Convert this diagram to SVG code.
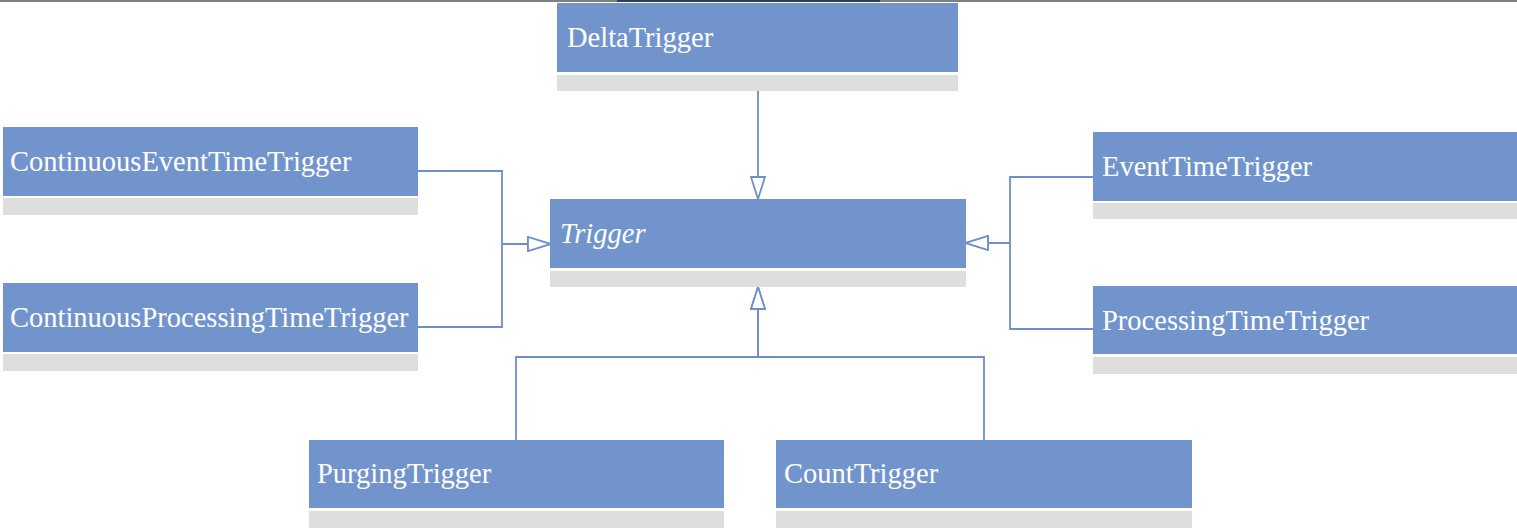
<svg xmlns="http://www.w3.org/2000/svg" width="1517" height="530" viewBox="0 0 1517 530">
  <style>
    .hdr { fill: #7294cd; }
    .body { fill: #dedede; }
    .lbl { font-family: "Liberation Serif", "Times New Roman", serif; font-size: 28.5px; fill: #ffffff; }
    .it { font-style: italic; }
    .conn { fill: none; stroke: #6f8fcb; stroke-width: 1.8; }
  </style>
  <defs>
    <marker id="gen" viewBox="0 0 24 16" refX="23" refY="8" markerWidth="24" markerHeight="16" markerUnits="userSpaceOnUse" orient="auto">
      <path d="M1,1 L23,8 L1,15 Z" fill="#ffffff" stroke="#6f8fcb" stroke-width="1.8"/>
    </marker>
  </defs>
  <rect width="1517" height="530" fill="#ffffff"/>
  <rect x="0" y="0" width="1517" height="2" fill="#7f7f7f"/>
  <rect x="617" y="0" width="263" height="2" fill="#2a3d62"/>

  <g id="connectors">
    <path class="conn" d="M758,91 V199" marker-end="url(#gen)"/>
    <path class="conn" d="M418,171 H502 V244 H550" marker-end="url(#gen)"/>
    <path class="conn" d="M418,327 H502 V244 H550" marker-end="url(#gen)"/>
    <path class="conn" d="M1093,177 H1010 V243 H966" marker-end="url(#gen)"/>
    <path class="conn" d="M1093,329 H1010 V243 H966" marker-end="url(#gen)"/>
    <path class="conn" d="M516,440 V357 H758 V287" marker-end="url(#gen)"/>
    <path class="conn" d="M984,440 V357 H758 V287" marker-end="url(#gen)"/>
  </g>

  <g id="DeltaTrigger">
    <rect class="hdr" x="557" y="3" width="401" height="69"/>
    <rect class="body" x="557" y="75" width="401" height="16"/>
    <text class="lbl" x="567" y="47">DeltaTrigger</text>
  </g>
  <g id="Trigger">
    <rect class="hdr" x="550" y="199" width="416" height="69"/>
    <rect class="body" x="550" y="271" width="416" height="16"/>
    <text class="lbl it" x="560" y="243">Trigger</text>
  </g>
  <g id="ContinuousEventTimeTrigger">
    <rect class="hdr" x="3" y="127" width="415" height="69"/>
    <rect class="body" x="3" y="198" width="415" height="17"/>
    <text class="lbl" x="10" y="171">ContinuousEventTimeTrigger</text>
  </g>
  <g id="ContinuousProcessingTimeTrigger">
    <rect class="hdr" x="3" y="283" width="415" height="69"/>
    <rect class="body" x="3" y="354" width="415" height="17"/>
    <text class="lbl" x="10" y="327">ContinuousProcessingTimeTrigger</text>
  </g>
  <g id="EventTimeTrigger">
    <rect class="hdr" x="1093" y="132" width="424" height="69"/>
    <rect class="body" x="1093" y="203" width="424" height="16"/>
    <text class="lbl" x="1102" y="176">EventTimeTrigger</text>
  </g>
  <g id="ProcessingTimeTrigger">
    <rect class="hdr" x="1093" y="286" width="424" height="68"/>
    <rect class="body" x="1093" y="357" width="424" height="17"/>
    <text class="lbl" x="1102" y="330">ProcessingTimeTrigger</text>
  </g>
  <g id="PurgingTrigger">
    <rect class="hdr" x="309" y="440" width="415" height="68"/>
    <rect class="body" x="309" y="511" width="415" height="17"/>
    <text class="lbl" x="317" y="483">PurgingTrigger</text>
  </g>
  <g id="CountTrigger">
    <rect class="hdr" x="776" y="440" width="416" height="68"/>
    <rect class="body" x="776" y="511" width="416" height="17"/>
    <text class="lbl" x="784" y="483">CountTrigger</text>
  </g>
</svg>
